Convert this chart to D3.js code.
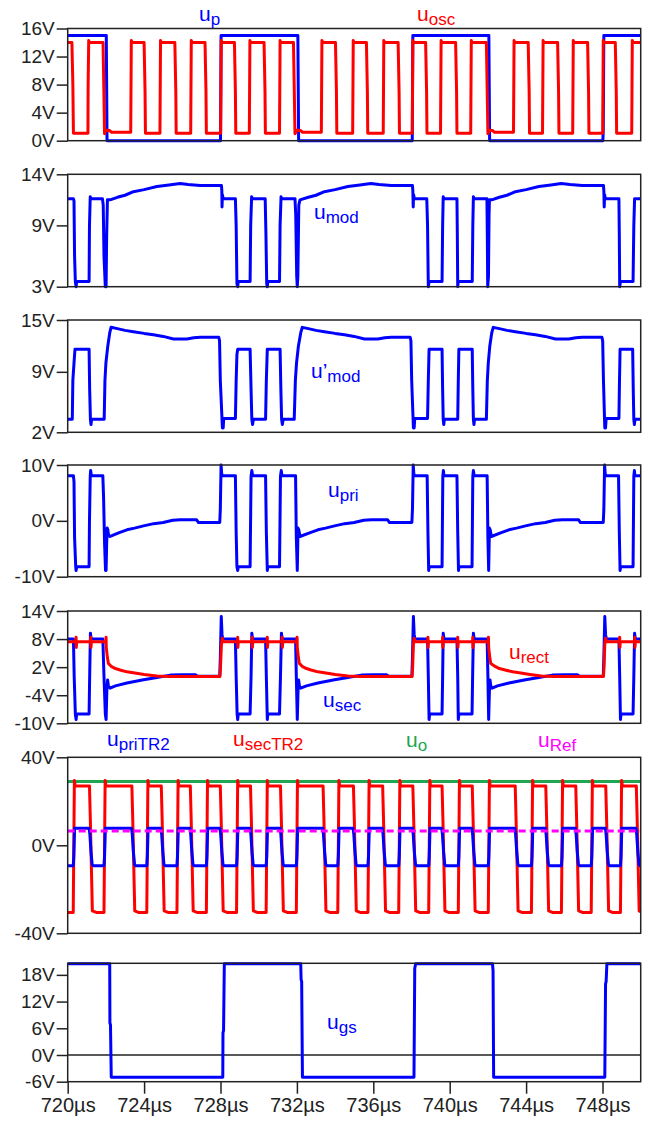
<!DOCTYPE html>
<html><head><meta charset="utf-8">
<script src="https://cdn.jsdelivr.net/npm/d3@7"></script>
<style>
body{margin:0;background:#fff}
svg{display:block}
text{font-family:"Liberation Sans",Arial,Helvetica,sans-serif}
</style>
</head><body>
<svg id="c" width="651" height="1122"></svg>
<script>
// ---------- DATA (time in µs, voltage in V) ----------
const xTicks = [720,724,728,732,736,740,744,748];
const yTicksP1 = [0,4,8,12,16];
const yTicksP2 = [3,9,14];
const yTicksP3 = [2,9,15];
const yTicksP4 = [-10,0,10];
const yTicksP5 = [-10,-4,2,8,14];
const yTicksP6 = [-40,0,40];
const yTicksP7 = [-6,0,6,12,18];

const uP = [[720,15],[722.02,15],[722.06,0],[728.0,0],[728.03,15],[732.05,15],[732.09,0],[738.04,0],[738.07,15],[742.05,15],[742.09,0],[748.02,0],[748.04,1.5],[748.07,15],[750,15]];

const uOsc = [[720,14.0],[720.22,14.0],[720.27,8],[720.3,1.05],
[721.06,1.05],[721.07,8],[721.1,14.3],[721.14,14.0],
[721.85,14.0],[721.9,6],[721.93,1.0],[722.0,1.5],[722.2,1.45],[722.3,1.2],
[723.3,1.2],[723.33,14.3],[723.38,14.0],
[724.0,14.0],[724.05,7],[724.07,1.05],
[724.83,1.05],[724.86,14.3],[724.9,14.0],
[725.61,14.0],[725.66,7],[725.68,1.05],
[726.44,1.05],[726.47,14.3],[726.51,14.0],
[727.19,14.0],[727.24,7],[727.26,1.05],
[728.01,1.05],[728.04,14.3],[728.08,14.0],
[728.73,14.0],[728.78,7],[728.8,1.05],
[729.51,1.05],[729.54,14.3],[729.58,14.0],
[730.28,14.0],[730.33,7],[730.35,1.05],
[731.09,1.05],[731.12,14.3],[731.16,14.0],
[731.82,14.0],[731.87,6],[731.9,1.0],[732.0,1.5],[732.2,1.45],[732.3,1.2],
[733.28,1.2],[733.31,14.3],[733.36,14.0],
[734.02,14.0],[734.07,7],[734.09,1.05],
[734.92,1.05],[734.95,14.3],[734.99,14.0],
[735.64,14.0],[735.69,7],[735.71,1.05],
[736.52,1.05],[736.55,14.3],[736.59,14.0],
[737.3,14.0],[737.35,7],[737.37,1.05],
[738.04,1.05],[738.07,14.3],[738.11,14.0],
[738.74,14.0],[738.79,7],[738.81,1.05],
[739.52,1.05],[739.55,14.3],[739.59,14.0],
[740.31,14.0],[740.36,7],[740.38,1.05],
[741.1,1.05],[741.13,14.3],[741.17,14.0],
[741.92,14.0],[741.97,6],[742.0,1.0],[742.08,1.5],[742.25,1.45],[742.35,1.2],
[743.34,1.2],[743.37,14.3],[743.41,14.0],
[744.11,14.0],[744.16,7],[744.18,1.05],
[744.86,1.05],[744.89,14.3],[744.93,14.0],
[745.65,14.0],[745.7,7],[745.72,1.05],
[746.44,1.05],[746.47,14.3],[746.51,14.0],
[747.22,14.0],[747.27,7],[747.29,1.05],
[748.01,1.05],[748.04,14.3],[748.08,14.0],
[748.67,14.0],[748.72,7],[748.74,1.05],
[749.53,1.05],[749.56,14.3],[749.6,14.0],[750,14.0]];

const uMod = [[720,11.6],[720.3,11.6],[720.33,11.4],[720.36,6],[720.4,3.5],[720.44,3.0],[720.47,3.5],[721.12,3.5],[721.14,9],[721.18,11.8],[721.22,11.6],[721.82,11.6],[721.86,11.0],[721.9,6],[721.97,3.0],[722.01,3.0],[722.04,8],[722.08,11.5],[722.22,11.5],[722.6,11.75],[723.0,11.95],[723.44,12.3],[724.0,12.5],[724.67,12.8],[725.3,12.95],[725.89,13.1],[726.3,13.0],[726.94,12.9],[727.5,12.9],[728.05,12.9],[728.07,12.4],[728.08,10.8],[728.1,12.0],[728.14,11.6],[728.78,11.6],[728.82,9],[728.86,3.3],[728.9,3.0],[728.93,3.5],[729.55,3.5],[729.58,9],[729.63,11.8],[729.68,11.6],[730.34,11.6],[730.38,8],[730.42,3.3],[730.45,3.0],[730.48,3.5],[731.09,3.5],[731.12,9],[731.17,11.8],[731.22,11.6],[731.9,11.6],[731.94,10],[731.99,4],[732.02,3.0],[732.05,4],[732.1,11.0],[732.16,11.5],[732.6,11.75],[733.0,11.95],[733.44,12.3],[734.0,12.5],[734.67,12.8],[735.3,12.95],[735.87,13.1],[736.3,13.0],[736.94,12.9],[737.5,12.9],[738.05,12.9],[738.07,12.4],[738.09,10.8],[738.11,12.0],[738.15,11.6],[738.8,11.6],[738.84,9],[738.88,3.0],[738.92,3.5],[739.6,3.5],[739.63,9],[739.66,11.8],[739.7,11.6],[740.38,11.6],[740.4,8],[740.42,3.0],[740.45,3.5],[741.18,3.5],[741.21,9],[741.24,11.8],[741.28,11.6],[741.95,11.6],[741.97,8],[741.99,3.0],[742.03,4],[742.06,10],[742.08,11.5],[742.2,11.5],[742.6,11.75],[743.0,11.95],[743.44,12.3],[744.0,12.5],[744.67,12.8],[745.3,12.95],[745.84,13.1],[746.3,13.0],[746.94,12.9],[747.5,12.9],[748.05,12.9],[748.07,12.4],[748.09,10.8],[748.11,12.0],[748.15,11.6],[748.86,11.6],[748.88,8],[748.9,3.0],[748.94,3.5],[749.6,3.5],[749.64,9],[749.68,11.6],[750,11.6]];

const uModP = [[720,3.5],[720.24,3.5],[720.27,8],[720.33,10],[720.38,11.6],[721.12,11.6],[721.15,7],[721.19,3.5],[721.22,2.9],[721.25,3.5],[721.91,3.5],[721.95,8],[722.0,10],[722.1,12],[722.2,13.5],[722.27,14.15],[722.6,14.0],[723.0,13.8],[723.44,13.65],[724.0,13.45],[724.49,13.3],[725.0,13.1],[725.54,12.8],[726.24,12.8],[726.6,12.95],[726.94,13.0],[727.91,13.0],[727.95,12.6],[727.99,8],[728.1,2.5],[728.14,2.5],[728.17,3.6],[728.78,3.6],[728.82,8],[728.86,11],[728.9,11.6],[729.55,11.6],[729.6,7],[729.64,3.5],[729.68,2.9],[729.72,3.5],[730.36,3.5],[730.4,8],[730.45,11.6],[731.12,11.6],[731.16,7],[731.2,3.5],[731.24,2.9],[731.28,3.5],[731.86,3.5],[731.92,8],[731.98,10],[732.08,12],[732.2,13.5],[732.28,14.15],[732.6,14.0],[733.0,13.8],[733.44,13.65],[734.0,13.45],[734.49,13.3],[735.0,13.1],[735.54,12.8],[736.24,12.8],[736.6,12.95],[736.94,13.0],[737.93,13.0],[737.97,12.6],[738.01,8],[738.1,2.5],[738.14,2.5],[738.17,3.6],[738.84,3.6],[738.88,8],[738.92,11.6],[739.6,11.6],[739.63,7],[739.66,3.5],[739.69,2.9],[739.72,3.5],[740.42,3.5],[740.45,8],[740.48,11.6],[741.18,11.6],[741.21,7],[741.24,3.5],[741.27,2.9],[741.3,3.5],[741.92,3.5],[741.97,8],[742.02,10],[742.1,12],[742.2,13.5],[742.28,14.15],[742.6,14.0],[743.0,13.8],[743.44,13.65],[744.0,13.45],[744.49,13.3],[745.0,13.1],[745.54,12.8],[746.24,12.8],[746.6,12.95],[746.94,13.0],[747.97,13.0],[748.01,12.6],[748.05,8],[748.12,2.5],[748.16,2.5],[748.19,3.6],[748.86,3.6],[748.89,8],[748.92,11.6],[749.58,11.6],[749.61,7],[749.64,3.5],[749.67,2.9],[749.7,3.5],[750,3.5]];

const uPri = [[720,8.06],[720.3,8.06],[720.33,7],[720.36,-3],[720.42,-8.2],[720.44,-8.9],[720.47,-8.2],[721.12,-8.2],[721.14,0],[721.18,8],[721.2,9.0],[721.24,8.06],[721.84,8.06],[721.88,4],[721.93,-4],[721.98,-8.9],[722.01,-8.9],[722.04,-4],[722.07,-1.3],[722.1,-1.6],[722.14,-2.6],[722.22,-2.8],[722.7,-2.1],[723.1,-1.6],[723.5,-1.3],[723.97,-0.9],[724.5,-0.5],[725.0,-0.3],[725.5,0.1],[725.9,0.18],[726.75,0.18],[726.85,-0.3],[727.5,-0.3],[727.96,-0.3],[727.99,2],[728.03,10.0],[728.06,8.5],[728.1,8.06],[728.78,8.06],[728.82,-2],[728.86,-8.2],[728.9,-8.9],[728.93,-8.2],[729.55,-8.2],[729.6,8],[729.64,9.0],[729.68,8.06],[730.36,8.06],[730.4,-2],[730.45,-8.9],[730.48,-8.2],[731.09,-8.2],[731.14,8],[731.18,9.0],[731.22,8.06],[731.93,8.06],[731.97,-3],[732.02,-8.9],[732.06,-1.3],[732.1,-1.6],[732.16,-2.8],[732.7,-2.1],[733.1,-1.6],[733.5,-1.3],[733.97,-0.9],[734.5,-0.5],[735.0,-0.3],[735.5,0.1],[735.9,0.18],[736.75,0.18],[736.85,-0.3],[737.5,-0.3],[738.02,-0.3],[738.05,2],[738.09,10.0],[738.12,8.5],[738.16,8.06],[738.82,8.06],[738.86,-2],[738.9,-8.9],[738.93,-8.2],[739.6,-8.2],[739.64,8],[739.67,9.0],[739.7,8.06],[740.38,8.06],[740.42,-2],[740.46,-8.9],[740.49,-8.2],[741.17,-8.2],[741.21,8],[741.24,9.0],[741.28,8.06],[741.96,8.06],[742.0,-3],[742.04,-8.9],[742.08,-1.3],[742.12,-1.6],[742.18,-2.8],[742.7,-2.1],[743.1,-1.6],[743.5,-1.3],[743.97,-0.9],[744.5,-0.5],[745.0,-0.3],[745.5,0.1],[745.9,0.18],[746.75,0.18],[746.85,-0.3],[747.5,-0.3],[748.04,-0.3],[748.07,2],[748.11,10.0],[748.14,8.5],[748.18,8.06],[748.84,8.06],[748.88,-2],[748.92,-8.9],[748.95,-8.2],[749.6,-8.2],[749.64,8],[749.67,9.0],[749.7,8.06],[750,8.06]];

const uSec = [[720,8.0],[720.3,8.0],[720.34,0],[720.4,-8.0],[720.44,-9.2],[720.47,-8.0],[721.12,-8.0],[721.15,0],[721.19,9.25],[721.23,8.0],[721.84,8.0],[721.9,0],[721.97,-8],[722.01,-9.2],[722.05,-3],[722.09,-0.74],[722.13,-2.0],[722.22,-2.5],[722.5,-2.0],[723.1,-1.4],[723.97,-0.7],[724.67,-0.2],[725.37,0.3],[726.0,0.35],[726.7,0.35],[726.8,0.05],[727.96,0.05],[727.99,4],[728.04,12.8],[728.08,9],[728.12,8.0],[728.78,8.0],[728.82,0],[728.87,-8],[728.9,-9.2],[728.93,-8.0],[729.55,-8.0],[729.6,0],[729.64,9.25],[729.68,8.0],[730.36,8.0],[730.4,0],[730.45,-9.2],[730.48,-8.0],[731.09,-8.0],[731.14,0],[731.19,9.25],[731.23,8.0],[731.93,8.0],[731.97,0],[732.02,-9.2],[732.06,-3],[732.09,-0.74],[732.13,-2.0],[732.2,-2.5],[732.5,-2.0],[733.1,-1.4],[733.97,-0.7],[734.67,-0.2],[735.37,0.3],[736.0,0.35],[736.7,0.35],[736.8,0.05],[738.02,0.05],[738.05,4],[738.1,12.8],[738.14,9],[738.18,8.0],[738.84,8.0],[738.88,0],[738.92,-9.2],[738.95,-8.0],[739.6,-8.0],[739.63,0],[739.66,9.25],[739.7,8.0],[740.38,8.0],[740.42,0],[740.45,-9.2],[740.48,-8.0],[741.17,-8.0],[741.2,0],[741.24,9.25],[741.28,8.0],[741.96,8.0],[742.0,0],[742.04,-9.2],[742.08,-3],[742.11,-0.74],[742.15,-2.0],[742.22,-2.5],[742.5,-2.0],[743.1,-1.4],[743.97,-0.7],[744.67,-0.2],[745.37,0.3],[746.0,0.35],[746.7,0.35],[746.8,0.05],[748.04,0.05],[748.07,4],[748.12,12.8],[748.16,9],[748.2,8.0],[748.86,8.0],[748.9,0],[748.94,-9.2],[748.97,-8.0],[749.6,-8.0],[749.64,0],[749.68,9.25],[749.72,8.0],[750,8.0]];

const uRect = [[720,7.45],[720.43,7.45],[720.44,8.4],[720.45,6.2],[720.47,7.45],[721.2,7.45],[721.21,8.4],[721.22,6.2],[721.24,7.45],[721.95,7.45],[721.99,7.2],[722.01,8.4],[722.02,6.2],[722.08,4.0],[722.13,2.8],[722.3,2.1],[722.5,1.7],[722.74,1.4],[723.1,1.0],[723.6,0.7],[724.0,0.45],[724.67,0.1],[725.3,0.0],[727.97,0.0],[728.0,2],[728.05,7],[728.1,8.2],[728.14,7.45],[728.89,7.45],[728.9,8.4],[728.91,6.2],[728.93,7.45],[729.65,7.45],[729.66,8.4],[729.67,6.2],[729.69,7.45],[730.44,7.45],[730.45,8.4],[730.46,6.2],[730.48,7.45],[731.22,7.45],[731.23,8.4],[731.24,6.2],[731.26,7.45],[731.95,7.45],[731.99,7.2],[732.01,8.4],[732.02,6.2],[732.08,4.0],[732.13,2.8],[732.3,2.1],[732.5,1.7],[732.74,1.4],[733.1,1.0],[733.6,0.7],[734.0,0.45],[734.67,0.1],[735.3,0.0],[738.03,0.0],[738.06,2],[738.1,7],[738.14,8.2],[738.18,7.45],[738.85,7.45],[738.86,8.4],[738.87,6.2],[738.89,7.45],[739.62,7.45],[739.63,8.4],[739.64,6.2],[739.66,7.45],[740.41,7.45],[740.42,8.4],[740.43,6.2],[740.45,7.45],[741.2,7.45],[741.21,8.4],[741.22,6.2],[741.24,7.45],[741.97,7.45],[742.01,7.2],[742.03,8.4],[742.04,6.2],[742.1,4.0],[742.15,2.8],[742.4,2.1],[742.6,1.7],[742.9,1.4],[743.3,1.0],[743.8,0.7],[744.2,0.45],[744.8,0.1],[745.4,0.0],[748.05,0.0],[748.08,2],[748.12,7],[748.16,8.2],[748.2,7.45],[748.89,7.45],[748.9,8.4],[748.91,6.2],[748.93,7.45],[749.68,7.45],[749.69,8.4],[749.7,6.2],[749.72,7.45],[750,7.45]];

const uSecTR2 = [[720,-30.5],
[720.29,-30.5],[720.32,0],[720.35,29.5],[720.39,27],
[721.14,27],[721.19,10],[721.24,-10],[721.29,-29.8],[721.5,-30.5],
[721.9,-30.5],[721.93,0],[721.96,29.5],[722.0,27],
[723.36,27],[723.41,10],[723.46,-10],[723.51,-29.8],[723.7,-30.5],
[724.14,-30.5],[724.17,0],[724.2,29.5],[724.24,27],
[724.9,27],[724.95,10],[725.0,-10],[725.05,-29.8],[725.25,-30.5],
[725.72,-30.5],[725.75,0],[725.78,29.5],[725.82,27],
[726.42,27],[726.47,10],[726.52,-10],[726.57,-29.8],[726.77,-30.5],
[727.26,-30.5],[727.29,0],[727.32,29.5],[727.36,27],
[727.99,27],[728.04,10],[728.09,-10],[728.14,-29.8],[728.34,-30.5],
[728.84,-30.5],[728.87,0],[728.9,29.5],[728.94,27],
[729.57,27],[729.62,10],[729.67,-10],[729.72,-29.8],[729.92,-30.5],
[730.39,-30.5],[730.42,0],[730.45,29.5],[730.49,27],
[731.14,27],[731.19,10],[731.24,-10],[731.29,-29.8],[731.49,-30.5],
[731.97,-30.5],[732.0,0],[732.03,29.5],[732.07,27],
[733.37,27],[733.42,10],[733.47,-10],[733.52,-29.8],[733.72,-30.5],
[734.14,-30.5],[734.17,0],[734.2,29.5],[734.24,27],
[734.96,27],[735.01,10],[735.06,-10],[735.11,-29.8],[735.31,-30.5],
[735.72,-30.5],[735.75,0],[735.78,29.5],[735.82,27],
[736.49,27],[736.54,10],[736.59,-10],[736.64,-29.8],[736.84,-30.5],
[737.33,-30.5],[737.36,0],[737.39,29.5],[737.43,27],
[738.07,27],[738.12,10],[738.17,-10],[738.22,-29.8],[738.42,-30.5],
[738.9,-30.5],[738.93,0],[738.96,29.5],[739.0,27],
[739.6,27],[739.65,10],[739.7,-10],[739.75,-29.8],[739.95,-30.5],
[740.45,-30.5],[740.48,0],[740.51,29.5],[740.55,27],
[741.18,27],[741.23,10],[741.28,-10],[741.33,-29.8],[741.53,-30.5],
[742.02,-30.5],[742.05,0],[742.08,29.5],[742.12,27],
[743.43,27],[743.48,10],[743.53,-10],[743.58,-29.8],[743.78,-30.5],
[744.28,-30.5],[744.31,0],[744.34,29.5],[744.38,27],
[745.03,27],[745.08,10],[745.13,-10],[745.18,-29.8],[745.38,-30.5],
[745.85,-30.5],[745.88,0],[745.91,29.5],[745.95,27],
[746.6,27],[746.65,10],[746.7,-10],[746.75,-29.8],[746.95,-30.5],
[747.41,-30.5],[747.44,0],[747.47,29.5],[747.51,27],
[748.17,27],[748.22,10],[748.27,-10],[748.32,-29.8],[748.52,-30.5],
[748.94,-30.5],[748.97,0],[749.0,29.5],[749.04,27],
[749.77,27],[749.82,10],[749.87,-10],[749.92,-29.8],[750,-30.2]];

const uPriTR2 = [[720,-9.3],
[720.29,-9.3],[720.32,-5],[720.36,7.7],
[721.12,7.7],[721.16,5],[721.22,-3],[721.28,-8.7],[721.34,-9.3],
[721.9,-9.3],[721.93,-5],[721.97,7.7],
[723.34,7.7],[723.38,5],[723.44,-3],[723.5,-8.7],[723.56,-9.3],
[724.14,-9.3],[724.17,-5],[724.21,7.7],
[724.88,7.7],[724.92,5],[724.98,-3],[725.04,-8.7],[725.1,-9.3],
[725.72,-9.3],[725.75,-5],[725.79,7.7],
[726.4,7.7],[726.44,5],[726.5,-3],[726.56,-8.7],[726.62,-9.3],
[727.26,-9.3],[727.29,-5],[727.33,7.7],
[727.97,7.7],[728.01,5],[728.07,-3],[728.13,-8.7],[728.19,-9.3],
[728.84,-9.3],[728.87,-5],[728.91,7.7],
[729.55,7.7],[729.59,5],[729.65,-3],[729.71,-8.7],[729.77,-9.3],
[730.39,-9.3],[730.42,-5],[730.46,7.7],
[731.12,7.7],[731.16,5],[731.22,-3],[731.28,-8.7],[731.34,-9.3],
[731.97,-9.3],[732.0,-5],[732.04,7.7],
[733.35,7.7],[733.39,5],[733.45,-3],[733.51,-8.7],[733.57,-9.3],
[734.14,-9.3],[734.17,-5],[734.21,7.7],
[734.94,7.7],[734.98,5],[735.04,-3],[735.1,-8.7],[735.16,-9.3],
[735.72,-9.3],[735.75,-5],[735.79,7.7],
[736.47,7.7],[736.51,5],[736.57,-3],[736.63,-8.7],[736.69,-9.3],
[737.33,-9.3],[737.36,-5],[737.4,7.7],
[738.05,7.7],[738.09,5],[738.15,-3],[738.21,-8.7],[738.27,-9.3],
[738.9,-9.3],[738.93,-5],[738.97,7.7],
[739.58,7.7],[739.62,5],[739.68,-3],[739.74,-8.7],[739.8,-9.3],
[740.45,-9.3],[740.48,-5],[740.52,7.7],
[741.16,7.7],[741.2,5],[741.26,-3],[741.32,-8.7],[741.38,-9.3],
[742.02,-9.3],[742.05,-5],[742.09,7.7],
[743.41,7.7],[743.45,5],[743.51,-3],[743.57,-8.7],[743.63,-9.3],
[744.28,-9.3],[744.31,-5],[744.35,7.7],
[745.01,7.7],[745.05,5],[745.11,-3],[745.17,-8.7],[745.23,-9.3],
[745.85,-9.3],[745.88,-5],[745.92,7.7],
[746.58,7.7],[746.62,5],[746.68,-3],[746.74,-8.7],[746.8,-9.3],
[747.41,-9.3],[747.44,-5],[747.48,7.7],
[748.15,7.7],[748.19,5],[748.25,-3],[748.31,-8.7],[748.37,-9.3],
[748.94,-9.3],[748.97,-5],[749.01,7.7],
[749.75,7.7],[749.79,5],[749.85,-3],[749.91,-8.7],[749.97,-9.3],[750,-9.3]];

const uO = [[720,29],[750,29]];
const uRef = [[720,6.5],[750,6.5]];

const uGs = [[720,20.5],[722.2,20.5],[722.21,7.2],[722.24,6.8],[722.28,-5],[728.12,-5],[728.13,5],[728.16,5.5],[728.2,20.5],[732.2,20.5],[732.22,17],[732.25,16.5],[732.29,-5],[738.13,-5],[738.17,19.5],[738.22,20.5],[742.24,20.5],[742.27,19],[742.3,-5],[748.12,-5],[748.16,16],[748.19,16.5],[748.23,20.5],[750,20.5]];

// ---------- DRAWING ----------
const BLUE="#0000ff", RED="#ff0000", GREEN="#1ea650", MAG="#ff00ff";
const svg = d3.select("#c");
const L = 67.7, R = 640.7;
const x = d3.scaleLinear().domain([720,750]).range([L,R]);

const panels = [
  {dom:[0,16], top:28.5, bot:140.7, ticks:yTicksP1, series:[[uP,BLUE],[uOsc,RED]]},
  {dom:[3,14], top:174.3, bot:286.7, ticks:yTicksP2, series:[[uMod,BLUE]]},
  {dom:[2,15], top:320, bot:432.3, ticks:yTicksP3, series:[[uModP,BLUE]]},
  {dom:[-10,10], top:465, bot:576.7, ticks:yTicksP4, series:[[uPri,BLUE]]},
  {dom:[-10,14], top:611, bot:723.3, ticks:yTicksP5, series:[[uSec,BLUE],[uRect,RED]]},
  {dom:[-40,40], top:757.3, bot:933.3, ticks:yTicksP6, series:[[uO,GREEN],[uSecTR2,RED],[uPriTR2,BLUE],[uRef,MAG,"7,4"]]},
  {dom:[-6,20.6], top:963.3, bot:1081.7, ticks:yTicksP7, series:[[uGs,BLUE]], zero:true, xaxis:true}
];

panels.forEach((p,i)=>{
  const y = d3.scaleLinear().domain(p.dom).range([p.bot,p.top]);
  const g = svg.append("g");
  const ax = g.append("g").attr("transform",`translate(${L},0)`)
    .call(d3.axisLeft(y).tickValues(p.ticks).tickFormat(d=>d+"V").tickSize(11).tickPadding(2));
  ax.select(".domain").remove();
  ax.selectAll(".tick line").attr("stroke","#222").attr("stroke-width",1.5);
  ax.selectAll(".tick text").attr("font-size","19px").attr("fill","#222")
    .attr("font-family","'Liberation Sans',Arial,sans-serif");
  if (p.zero) {
    g.append("line").attr("x1",L).attr("x2",R).attr("y1",y(0)).attr("y2",y(0))
      .attr("stroke","#222").attr("stroke-width",1.5);
  }
  const line = d3.line().x(d=>x(d[0])).y(d=>y(d[1]));
  p.series.forEach(([data,col,dash])=>{
    g.append("path").datum(data).attr("d",line).attr("fill","none")
      .attr("stroke",col).attr("stroke-width",3)
      .attr("stroke-linejoin","round").attr("stroke-linecap","butt")
      .attr("stroke-dasharray",dash||null);
  });
  g.append("rect").attr("x",L).attr("y",p.top).attr("width",R-L).attr("height",p.bot-p.top)
    .attr("fill","none").attr("stroke","#222").attr("stroke-width",1.5);
  if (p.xaxis) {
    const xa = g.append("g").attr("transform",`translate(0,${p.bot})`)
      .call(d3.axisBottom(x).tickValues(xTicks).tickFormat(d=>d+"µs").tickSize(12).tickPadding(4));
    xa.select(".domain").remove();
    xa.selectAll(".tick line").attr("stroke","#222").attr("stroke-width",1.5);
    xa.selectAll(".tick text").attr("font-size","20px").attr("fill","#222")
      .attr("font-family","'Liberation Sans',Arial,sans-serif");
  }
});

// ---------- SERIES LABELS ----------
const labels = [
  {m:"u", s:"p", c:BLUE, x:199, y:21},
  {m:"u", s:"osc", c:RED, x:417, y:21},
  {m:"u", s:"mod", c:BLUE, x:314, y:219},
  {m:"u’", s:"mod", c:BLUE, x:311, y:378},
  {m:"u", s:"pri", c:BLUE, x:328, y:497},
  {m:"u", s:"rect", c:RED, x:509, y:659},
  {m:"u", s:"sec", c:BLUE, x:323, y:707},
  {m:"u", s:"priTR2", c:BLUE, x:107, y:746},
  {m:"u", s:"secTR2", c:RED, x:233, y:746},
  {m:"u", s:"o", c:GREEN, x:406, y:747},
  {m:"u", s:"Ref", c:MAG, x:538, y:747},
  {m:"u", s:"gs", c:BLUE, x:327, y:1029}
];
labels.forEach(l=>{
  const t = svg.append("text").attr("x",l.x).attr("y",l.y).attr("fill",l.c).attr("font-size","21px");
  t.append("tspan").text(l.m);
  t.append("tspan").attr("dy",4).attr("font-size","17px").text(l.s);
});
</script>
</body></html>
